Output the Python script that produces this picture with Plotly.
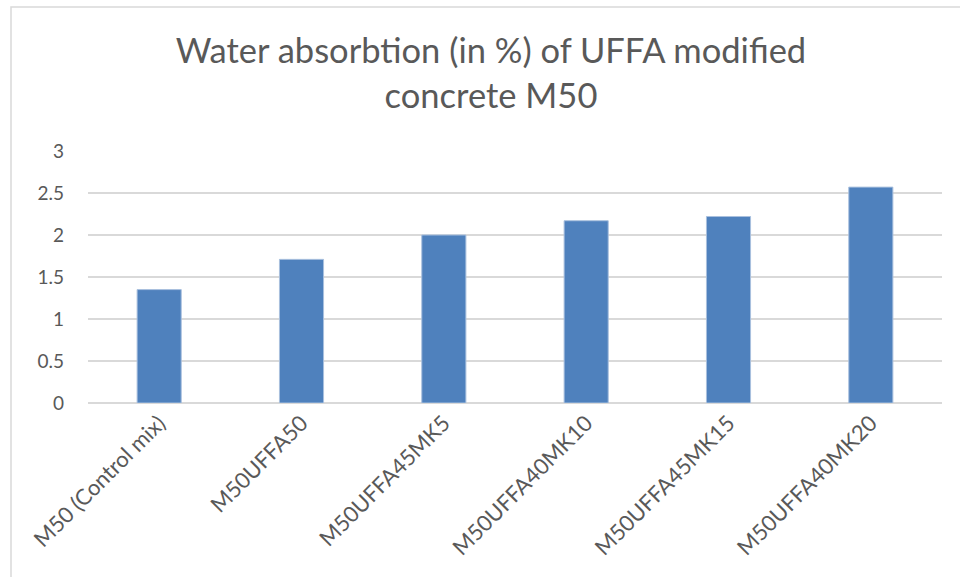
import plotly.graph_objects as go

categories = ["M50 (Control mix)", "M50UFFA50", "M50UFFA45MK5",
              "M50UFFA40MK10", "M50UFFA45MK15", "M50UFFA40MK20"]
absorption = [1.35, 1.71, 2.0, 2.17, 2.22, 2.57]
y_ticks = [0, 0.5, 1, 1.5, 2, 2.5, 3]
y_tick_text = ["0", "0.5", "1", "1.5", "2", "2.5", "3"]

L, R, T, B = 88, 18, 151, 174
W, H = 960, 577
pw, ph = W - L - R, H - T - B

fig = go.Figure(go.Bar(
    x=categories, y=absorption,
    marker=dict(color="#4f81bd", line=dict(color="#a9c0de", width=1)),
    width=0.31,
))

fig.update_layout(
    width=W, height=H,
    margin=dict(l=L, r=R, t=T, b=B),
    paper_bgcolor="white", plot_bgcolor="white",
    font=dict(family="Lato, Open Sans, sans-serif", color="#595959"),
    title=dict(text="Water absorbtion (in %) of UFFA modified<br>concrete M50",
               x=491 / W, xanchor="center", y=1 - 63 / H, yanchor="top",
               font=dict(size=34.5, color="#595959")),
    showlegend=False,
    bargap=0.69,
)
fig.update_xaxes(tickangle=-45, tickfont=dict(size=22), showgrid=False,
                 showline=False, ticks="", ticklabelstandoff=2,
                 automargin=False)
fig.update_yaxes(range=[0, 3], tickvals=y_ticks, ticktext=y_tick_text,
                 tickfont=dict(size=19), showgrid=True, gridcolor="#d9d9d9",
                 gridwidth=1.5, zeroline=True, zerolinecolor="#d9d9d9",
                 zerolinewidth=1.5, showline=False, ticks="",
                 ticklabelstandoff=23, automargin=False)

# outer chart border (light gray), extending beyond right/bottom edges
fig.add_shape(type="rect", xref="paper", yref="paper",
              x0=(11 - L) / pw, x1=(W + 20 - L) / pw,
              y0=-(H + 20 - T - ph) / ph, y1=(T + ph - 7) / ph,
              line=dict(color="#d9d9d9", width=1.5), layer="below")

fig.write_html("out.html",
               config={"displayModeBar": False},
               post_script="document.body.style.margin='0';document.body.style.overflow='hidden';")
